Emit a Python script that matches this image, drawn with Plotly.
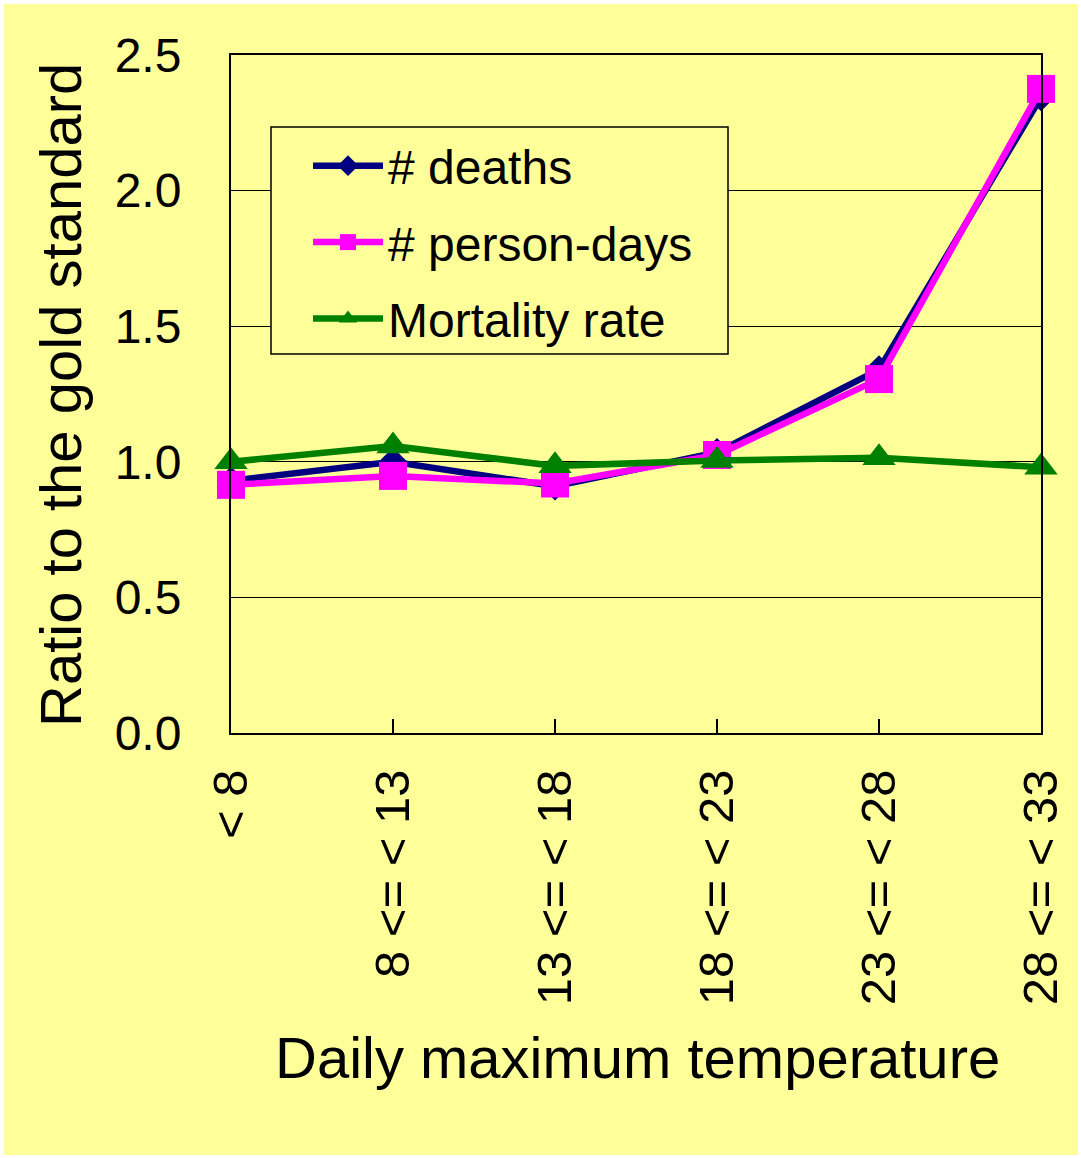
import plotly.graph_objects as go

# Temperature bands (daily maximum, degrees C)
categories = ["< 8", "8 <= < 13", "13 <= < 18", "18 <= < 23", "23 <= < 28", "28 <= < 33"]

# Ratio of each estimate to the gold standard
deaths = [0.93, 1.00, 0.91, 1.035, 1.34, 2.345]
person_days = [0.915, 0.948, 0.92, 1.025, 1.305, 2.375]
mortality_rate = [1.00, 1.058, 0.985, 1.005, 1.015, 0.98]

y_ticks = [0.0, 0.5, 1.0, 1.5, 2.0, 2.5]

FONT = "Liberation Sans, Arial, sans-serif"
BG = "#FFFF99"

W, H = 1081, 1158
L, R, T, B = 231, 40, 55, 425
PW, PH = W - L - R, H - T - B


def px_x(p):
    return (p - L) / PW


def px_y(p):
    return (H - B - p) / PH


x = list(range(len(categories)))

series = [
    ("# deaths", deaths, "#000080", "diamond", 22),
    ("# person-days", person_days, "#FF00FF", "square", 28),
    ("Mortality rate", mortality_rate, "#008000", "triangle-up", 29),
]

fig = go.Figure()
for i, (name, vals, color, symbol, size) in enumerate(series):
    fig.add_trace(go.Scatter(
        x=x, y=vals, name=name, mode="lines+markers",
        line=dict(color=color, width=6.5),
        marker=dict(symbol=symbol, size=size, color=color, line=dict(width=0)),
        cliponaxis=False, legendgroup=f"g{i}",
    ))

fig.update_layout(
    width=W, height=H,
    margin=dict(l=L, r=R, t=T, b=B, pad=0),
    paper_bgcolor="white",
    plot_bgcolor=BG,
    font=dict(family=FONT, color="black", size=48),
    showlegend=True,
    legend=dict(
        x=px_x(308), y=px_y(128), xanchor="left", yanchor="top",
        bgcolor="rgba(0,0,0,0)", borderwidth=0,
        font=dict(family=FONT, size=48, color="black"),
        tracegroupgap=11, itemwidth=70,
    ),
    shapes=[
        # yellow card behind the whole chart
        dict(type="rect", xref="paper", yref="paper", layer="below",
             x0=px_x(4), x1=px_x(1078), y0=px_y(1155), y1=px_y(4),
             fillcolor=BG, line=dict(width=0)),
        # legend frame
        dict(type="rect", xref="paper", yref="paper", layer="above",
             x0=px_x(271), x1=px_x(728), y0=px_y(354), y1=px_y(127),
             fillcolor=BG, line=dict(color="black", width=1.5)),
    ],
    annotations=[
        dict(text="Ratio to the gold standard", xref="paper", yref="paper",
             x=px_x(60), y=px_y(395), xanchor="center", yanchor="middle",
             textangle=-90, showarrow=False, font=dict(size=58)),
        dict(text="Daily maximum temperature", xref="paper", yref="paper",
             x=px_x(637), y=px_y(1057), xanchor="center", yanchor="middle",
             showarrow=False, font=dict(size=58)),
    ],
)

fig.update_xaxes(
    range=[0, len(categories) - 1], tickmode="array", tickvals=x, ticktext=categories,
    tickangle=-90, ticks="inside", ticklen=14, tickwidth=1.5, tickcolor="black",
    showgrid=False, zeroline=False,
    showline=True, linecolor="black", linewidth=2, mirror=True,
    tickfont=dict(size=49), ticklabelstandoff=15,
)
fig.update_yaxes(
    range=[0, 2.5], tickmode="array", tickvals=y_ticks, tickformat=".1f",
    ticks="", showgrid=True, gridcolor="black", gridwidth=1, zeroline=False,
    showline=True, linecolor="black", linewidth=2, mirror=True,
    tickfont=dict(size=48), ticklabelstandoff=38,
)

fig.write_html("out.html")
